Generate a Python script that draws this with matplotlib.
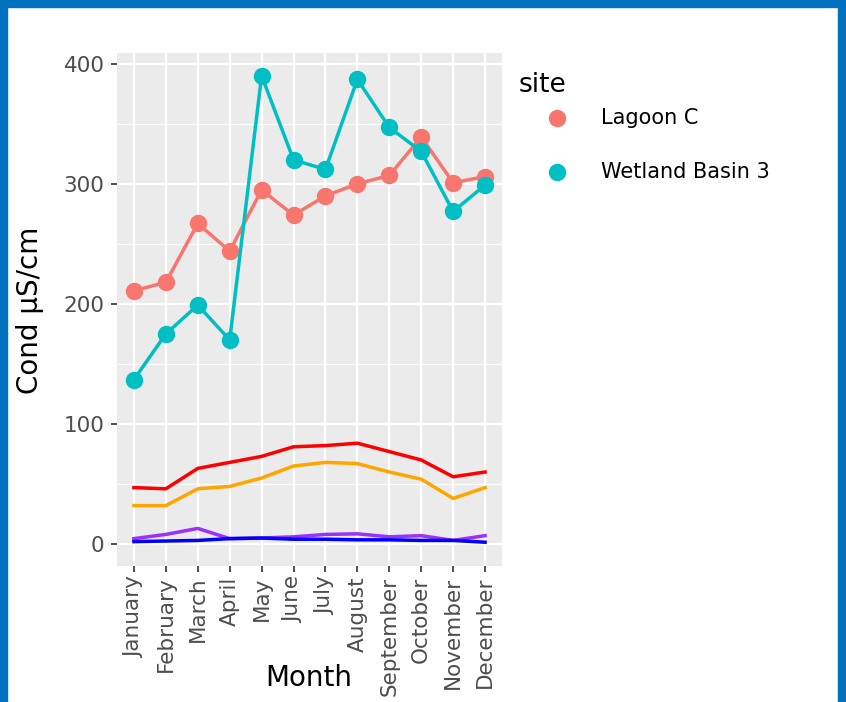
import numpy as np
import matplotlib.pyplot as plt
from matplotlib.lines import Line2D
from matplotlib.patches import Rectangle

months = ["January", "February", "March", "April", "May", "June", "July",
          "August", "September", "October", "November", "December"]

# site conductivity (points + lines)
lagoon_c = [211, 218, 267, 244, 295, 274, 290, 300, 307, 339, 301, 306]
wetland_b3 = [137, 175, 199, 170, 390, 320, 312, 387, 347, 327, 277, 299]

# reference lines (no points)
ref_red = [47, 46, 63, 68, 73, 81, 82, 84, 77, 70, 56, 60]
ref_orange = [32, 32, 46, 48, 55, 65, 68, 67, 60, 54, 38, 47]
ref_purple = [4.5, 8, 13, 4.5, 5, 6, 8, 8.5, 6, 7, 3, 7]
ref_blue = [2, 2.5, 3, 4.5, 5, 4, 4, 3.5, 3.5, 3, 3, 1.5]

site_names = ["Lagoon C", "Wetland Basin 3"]
site_colors = ["#F8766D", "#00BFC4"]

W, H = 846, 702
fig = plt.figure(figsize=(W/100, H/100), dpi=100)
ax = fig.add_axes([117/W, 1-566/H, 385/W, 513/H])
ax.set_facecolor("#EBEBEB")

x = np.arange(len(months))

# grid like ggplot
for v in [50, 150, 250, 350]:
    ax.axhline(v, color="white", lw=0.8, zorder=0)
for v in [0, 100, 200, 300, 400]:
    ax.axhline(v, color="white", lw=1.6, zorder=0)
for xi in x:
    ax.axvline(xi, color="white", lw=1.6, zorder=0)

ax.plot(x, ref_red, color="red", lw=2.5, zorder=2)
ax.plot(x, ref_orange, color="orange", lw=2.5, zorder=2)
ax.plot(x, ref_purple, color="#9B30FF", lw=2.5, zorder=2)
ax.plot(x, ref_blue, color="blue", lw=2.5, zorder=2)

ax.plot(x, lagoon_c, color=site_colors[0], lw=2.5, marker="o", ms=11.5, zorder=3)
ax.plot(x, wetland_b3, color=site_colors[1], lw=2.5, marker="o", ms=11.5, zorder=3)

ax.set_xlim(-0.53, 11.53)
ax.set_ylim(-18.3, 409)
ax.set_xticks(x)
ax.set_xticklabels(months, rotation=90, fontsize=15.5, color="#4D4D4D")
ax.set_yticks([0, 100, 200, 300, 400])
ax.set_yticklabels(["0", "100", "200", "300", "400"], fontsize=15.5, color="#4D4D4D")
ax.tick_params(length=4, width=1.2, color="#333333")
ax.tick_params(axis="y", pad=5)
for s in ax.spines.values():
    s.set_visible(False)

# axis titles (ggplot puts Month over the long tick labels here)
fig.text(309/W, 1-678/H, "Month", fontsize=20, ha="center", va="center")
fig.text(30/W, 1-310/H, "Cond μS/cm", fontsize=20, rotation=90,
         ha="center", va="center")

# legend, placed by hand
fig.text(519/W, 1-85/H, "site", fontsize=19, ha="left", va="center")
for i, (name, col) in enumerate(zip(site_names, site_colors)):
    yy = 1 - (118 + 54*i)/H
    fig.add_artist(Line2D([557/W], [yy], ls="none", marker="o", ms=11.5,
                          color=col, transform=fig.transFigure))
    fig.text(601/W, yy, name, fontsize=15, ha="left", va="center")

# blue frame
frame_col = "#0071BC"
fig.patches.append(Rectangle((0, 0), 7/W, 1, transform=fig.transFigure,
                             color=frame_col, zorder=10))
fig.patches.append(Rectangle((1-8/W, 0), 8/W, 1, transform=fig.transFigure,
                             color=frame_col, zorder=10))
fig.patches.append(Rectangle((0, 1-7/H), 1, 7/H, transform=fig.transFigure,
                             color=frame_col, zorder=10))

fig.savefig("out.png", dpi=100)
